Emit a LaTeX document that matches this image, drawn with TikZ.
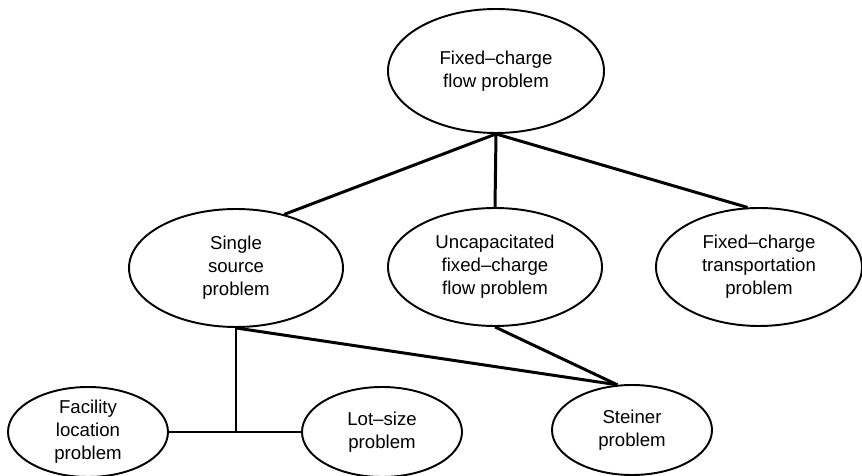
\documentclass[tikz,border=0pt]{standalone}
\usepackage{fontspec}
\setmainfont{Liberation Sans}
\usetikzlibrary{shapes.geometric}

\begin{document}
\begin{tikzpicture}[
		prob/.style={ellipse, draw, line width=1.1pt, inner sep=0pt, align=center,
			minimum width=4.28cm, minimum height=2.36cm,
			font=\fontsize{10.6}{13.1}\selectfont},
		small/.style={prob, minimum width=3.2cm, minimum height=1.8cm},
		link/.style={line width=1.7pt}]
	\useasboundingbox (0,0) rectangle (17.24,9.5);

	% Draw problems
	\node[prob, minimum width=4.32cm, minimum height=2.48cm] (fcflow) at (9.92,8.08) {Fixed--charge\\flow problem};
	\node[prob] (single) at (4.72,4.14) {Single\\source\\problem};
	\node[prob] (uncap) at (9.90,4.16) {Uncapacitated\\fixed--charge\\flow problem};
	\node[prob, minimum width=4.12cm] (trans) at (15.18,4.16) {Fixed--charge\\transportation\\problem};
	\node[small] (facility) at (1.76,0.86) {Facility\\location\\problem};
	\node[small] (lotsize) at (7.64,0.86) {Lot--size\\problem};
	\node[small] (steiner) at (12.64,0.90) {Steiner\\problem};

	% Draw links
	\draw[link] (fcflow.south) -- (single.48);
	\draw[link] (fcflow.south) -- (uncap.north);
	\draw[link] (fcflow.south) -- (trans.101);
	\draw[link] (single.south) -- (steiner.108);
	\draw[link] (uncap.south) -- (steiner.108);

	% Single source splits into facility and lot-size
	\coordinate (split) at (single.south |- facility.east);
	\draw[link] (single.south) -- (split);
	\draw[link] (facility.east) -- (lotsize.west);
\end{tikzpicture}
\end{document}
